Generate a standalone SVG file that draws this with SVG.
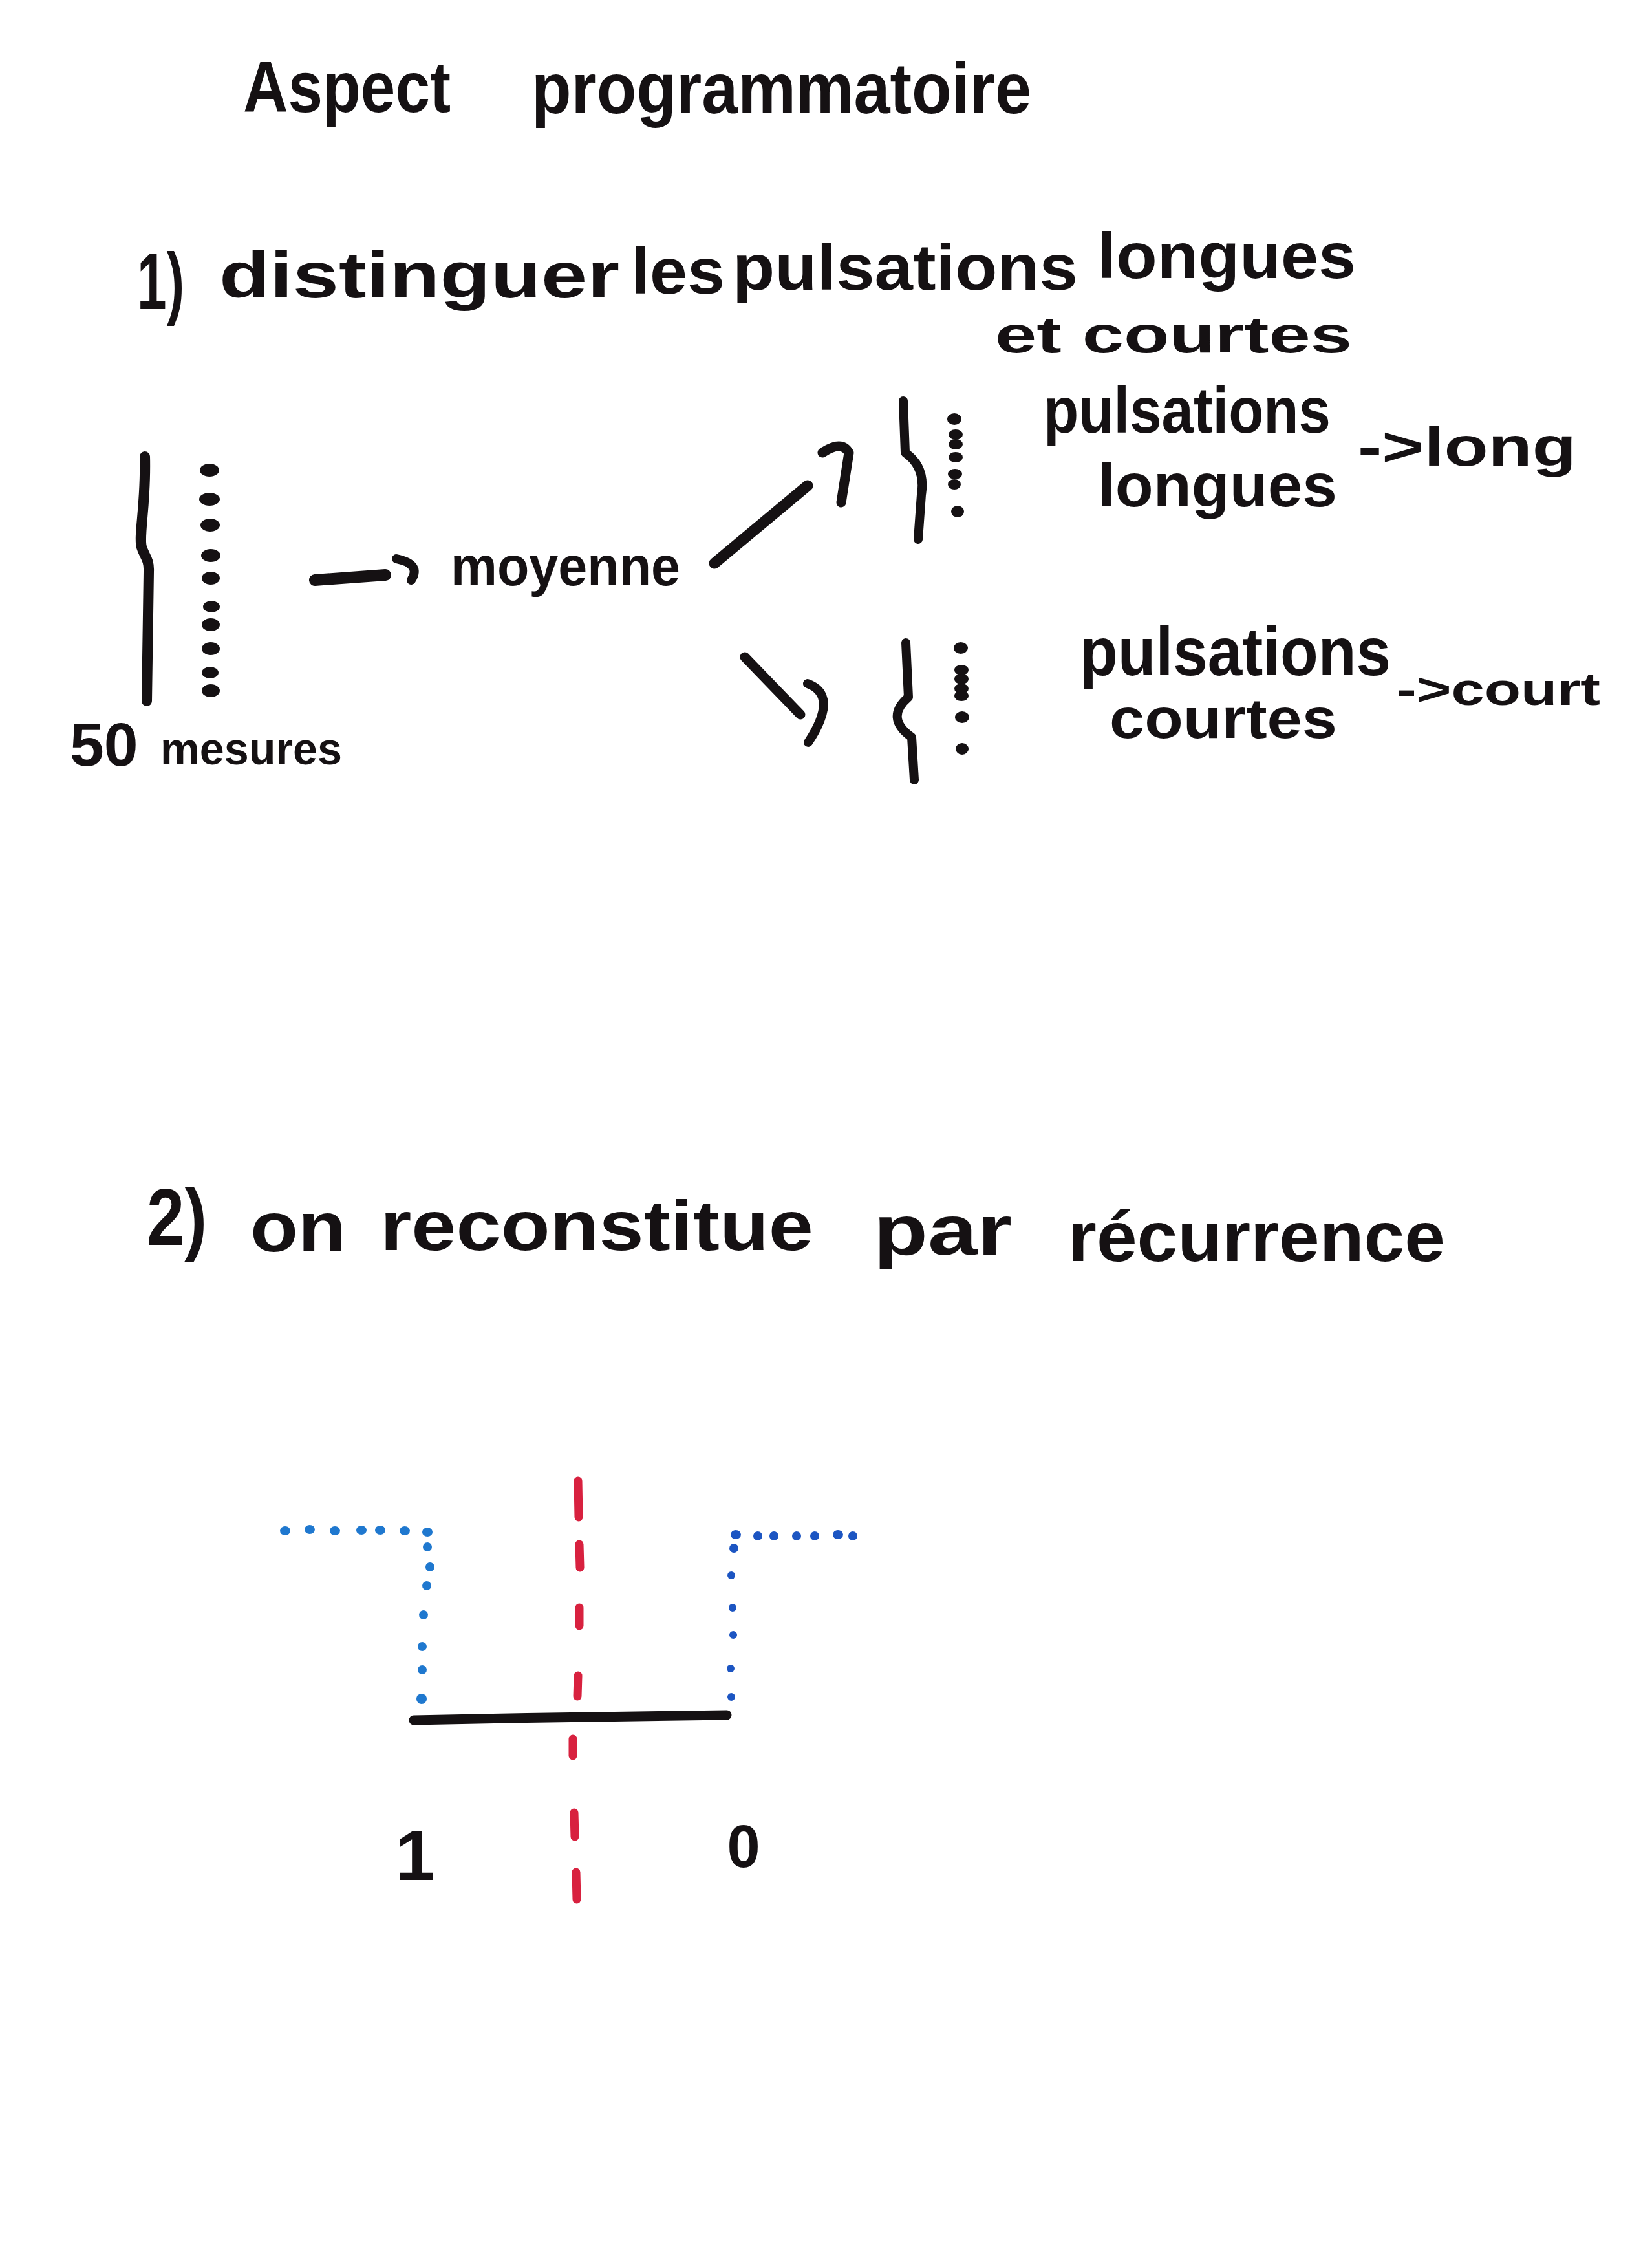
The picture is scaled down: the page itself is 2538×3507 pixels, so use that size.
<svg xmlns="http://www.w3.org/2000/svg" width="2538" height="3507" viewBox="0 0 2538 3507">
<style>
.hw { font-family: "Liberation Sans", Arial, sans-serif; font-weight: bold; fill: #151113; }
.ink { stroke: #151113; fill: none; stroke-linecap: round; stroke-linejoin: round; }
.dot { fill: #151113; }
.bdot { fill: #1f78cf; }
.bdot2 { fill: #1c55c2; }
.red { stroke: #d8213f; stroke-width: 13; stroke-linecap: round; fill: none; }
</style>
<rect x="0" y="0" width="2538" height="3507" fill="#ffffff"/>

<g id="title">
  <text class="hw" font-size="112"><tspan x="376" y="173" textLength="321" lengthAdjust="spacingAndGlyphs">Aspect</tspan> <tspan x="822" y="175" textLength="773" lengthAdjust="spacingAndGlyphs">programmatoire</tspan></text>
</g>

<g id="step1">
  <text class="hw" font-size="100"><tspan x="212" y="478" font-size="125" textLength="73" lengthAdjust="spacingAndGlyphs">1)</tspan> <tspan x="339" y="460" textLength="619" lengthAdjust="spacingAndGlyphs">distinguer</tspan> <tspan x="976" y="454" textLength="145" lengthAdjust="spacingAndGlyphs">les</tspan> <tspan x="1133" y="448" textLength="534" lengthAdjust="spacingAndGlyphs">pulsations</tspan> <tspan x="1697" y="430" textLength="400" lengthAdjust="spacingAndGlyphs">longues</tspan></text>
  <text class="hw" font-size="80"><tspan x="1539" y="545" textLength="552" lengthAdjust="spacingAndGlyphs">et courtes</tspan></text>
</g>

<g id="measures">
  <path class="ink" stroke-width="16" d="M224,706 C226,780 214,828 219,846 C223,860 231,864 230,884 L227,1084"/>
  <g class="dot">
    <ellipse cx="324" cy="727" rx="15" ry="10"/>
    <ellipse cx="324" cy="772" rx="16" ry="10"/>
    <ellipse cx="325" cy="812" rx="15" ry="10"/>
    <ellipse cx="326" cy="859" rx="15" ry="10"/>
    <ellipse cx="326" cy="894" rx="14" ry="10"/>
    <ellipse cx="327" cy="938" rx="13" ry="9"/>
    <ellipse cx="326" cy="966" rx="14" ry="10"/>
    <ellipse cx="326" cy="1003" rx="14" ry="10"/>
    <ellipse cx="325" cy="1040" rx="13" ry="9"/>
    <ellipse cx="326" cy="1068" rx="14" ry="10"/>
  </g>
  <text class="hw"><tspan x="108" y="1184" font-size="95">50</tspan><tspan x="248" y="1182" font-size="70" textLength="281" lengthAdjust="spacingAndGlyphs">mesures</tspan></text>
</g>

<g id="moyenne">
  <text class="hw" font-size="85" x="697" y="905" textLength="355" lengthAdjust="spacingAndGlyphs">moyenne</text>
</g>

<g id="long-branch">
  <path class="ink" stroke-width="14" d="M1397,620 L1400,700 Q1432,722 1425,765 L1420,834"/>
  <g class="dot">
    <ellipse cx="1476" cy="648" rx="11" ry="9"/>
    <ellipse cx="1478" cy="672" rx="11" ry="8"/>
    <ellipse cx="1478" cy="687" rx="11" ry="8"/>
    <ellipse cx="1478" cy="707" rx="11" ry="8"/>
    <ellipse cx="1477" cy="733" rx="11" ry="8"/>
    <ellipse cx="1476" cy="749" rx="10" ry="8"/>
    <ellipse cx="1481" cy="791" rx="10" ry="9"/>
  </g>
  <text class="hw" font-size="100"><tspan x="1614" y="669" textLength="444" lengthAdjust="spacingAndGlyphs">pulsations</tspan></text>
  <text class="hw" font-size="95"><tspan x="1698" y="783" textLength="370" lengthAdjust="spacingAndGlyphs">longues</tspan></text>
  <text class="hw" font-size="85"><tspan x="2100" y="720" textLength="338" lengthAdjust="spacingAndGlyphs">-&gt;long</tspan></text>
</g>

<g id="short-branch">
  <path class="ink" stroke-width="14" d="M1401,994 L1405,1078 Q1368,1110 1410,1140 L1414,1206"/>
  <g class="dot">
    <ellipse cx="1486" cy="1002" rx="11" ry="9"/>
    <ellipse cx="1487" cy="1036" rx="11" ry="8"/>
    <ellipse cx="1487" cy="1050" rx="11" ry="8"/>
    <ellipse cx="1487" cy="1065" rx="11" ry="8"/>
    <ellipse cx="1487" cy="1076" rx="11" ry="8"/>
    <ellipse cx="1488" cy="1109" rx="11" ry="9"/>
    <ellipse cx="1488" cy="1158" rx="10" ry="9"/>
  </g>
  <text class="hw" font-size="105"><tspan x="1670" y="1044" textLength="481" lengthAdjust="spacingAndGlyphs">pulsations</tspan></text>
  <text class="hw" font-size="88"><tspan x="1716" y="1141" textLength="352" lengthAdjust="spacingAndGlyphs">courtes</tspan></text>
  <text class="hw" font-size="70"><tspan x="2160" y="1090" textLength="315" lengthAdjust="spacingAndGlyphs">-&gt;court</tspan></text>
</g>

<g id="connectors">
  <path class="ink" stroke-width="18" d="M487,897 L596,889"/>
  <path class="ink" stroke-width="14" d="M613,864 Q652,872 636,897"/>
  <path class="ink" stroke-width="17" d="M1105,871 L1249,751"/>
  <path class="ink" stroke-width="15" d="M1272,700 Q1302,680 1313,700 L1301,777"/>
  <path class="ink" stroke-width="15" d="M1152,1016 L1238,1105"/>
  <path class="ink" stroke-width="14" d="M1249,1057 Q1298,1075 1250,1148"/>
</g>

<g id="step2">
  <text class="hw" font-size="110"><tspan x="227" y="1925" font-size="125" textLength="93" lengthAdjust="spacingAndGlyphs">2)</tspan> <tspan x="387" y="1935" textLength="148" lengthAdjust="spacingAndGlyphs">on</tspan> <tspan x="588" y="1933" textLength="670" lengthAdjust="spacingAndGlyphs">reconstitue</tspan> <tspan x="1351" y="1940" textLength="214" lengthAdjust="spacingAndGlyphs">par</tspan> <tspan x="1652" y="1950" textLength="583" lengthAdjust="spacingAndGlyphs">récurrence</tspan></text>
</g>

<g id="pulse-figure">
  <g class="red">
    <line x1="894" y1="2290" x2="895" y2="2346"/>
    <line x1="896" y1="2388" x2="897" y2="2424"/>
    <line x1="896" y1="2486" x2="896" y2="2514"/>
    <line x1="894" y1="2591" x2="893" y2="2623"/>
    <line x1="886" y1="2689" x2="886" y2="2715"/>
    <line x1="888" y1="2803" x2="889" y2="2840"/>
    <line x1="891" y1="2895" x2="892" y2="2937"/>
  </g>
  <g class="bdot">
    <ellipse cx="441" cy="2367" rx="8" ry="7"/>
    <ellipse cx="479" cy="2365" rx="8" ry="7"/>
    <ellipse cx="518" cy="2367" rx="8" ry="7"/>
    <ellipse cx="559" cy="2366" rx="8" ry="7"/>
    <ellipse cx="588" cy="2366" rx="8" ry="7"/>
    <ellipse cx="626" cy="2367" rx="8" ry="7"/>
    <ellipse cx="661" cy="2369" rx="8" ry="7"/>
    <ellipse cx="661" cy="2392" rx="7" ry="7"/>
    <ellipse cx="665" cy="2423" rx="7" ry="7"/>
    <ellipse cx="660" cy="2452" rx="7" ry="7"/>
    <ellipse cx="655" cy="2497" rx="7" ry="7"/>
    <ellipse cx="653" cy="2546" rx="7" ry="7"/>
    <ellipse cx="653" cy="2582" rx="7" ry="7"/>
    <ellipse cx="652" cy="2627" rx="8" ry="8"/>
  </g>
  <g class="bdot2">
    <ellipse cx="1138" cy="2373" rx="8" ry="7"/>
    <ellipse cx="1172" cy="2375" rx="7" ry="7"/>
    <ellipse cx="1197" cy="2375" rx="7" ry="7"/>
    <ellipse cx="1232" cy="2375" rx="7" ry="7"/>
    <ellipse cx="1260" cy="2375" rx="7" ry="7"/>
    <ellipse cx="1296" cy="2373" rx="8" ry="7"/>
    <ellipse cx="1319" cy="2375" rx="7" ry="7"/>
    <ellipse cx="1135" cy="2394" rx="7" ry="7"/>
    <ellipse cx="1131" cy="2436" rx="6" ry="6"/>
    <ellipse cx="1133" cy="2486" rx="6" ry="6"/>
    <ellipse cx="1134" cy="2528" rx="6" ry="6"/>
    <ellipse cx="1130" cy="2580" rx="6" ry="6"/>
    <ellipse cx="1131" cy="2624" rx="6" ry="6"/>
  </g>
  <path class="ink" stroke-width="15" d="M640,2660 C800,2656 1000,2654 1124,2652"/>
  <text class="hw" font-size="110" x="642" y="2907" text-anchor="middle">1</text>
  <text class="hw" font-size="92" x="1150" y="2887" text-anchor="middle">0</text>
</g>
</svg>
